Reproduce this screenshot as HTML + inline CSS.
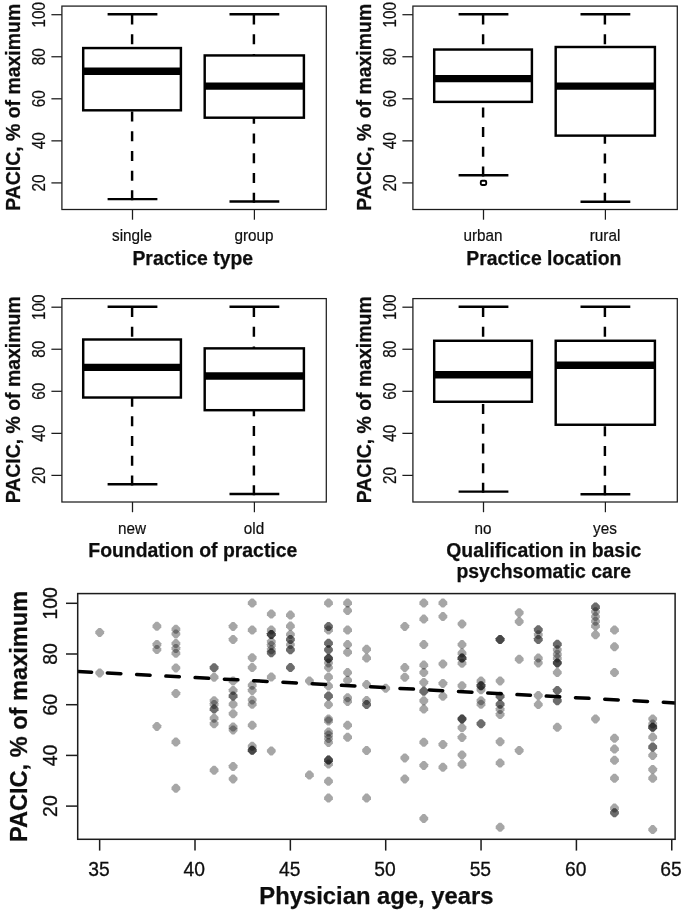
<!DOCTYPE html>
<html><head><meta charset="utf-8"><title>PACIC figure</title>
<style>
html,body{margin:0;padding:0;background:#fff;}
svg{display:block;font-family:'Liberation Sans', Arial, sans-serif;}
</style></head>
<body>
<svg width="685" height="913" viewBox="0 0 685 913">
<defs><clipPath id="sc"><rect x="77.7" y="593.6" width="597.4" height="245.7"/></clipPath><filter id="soft" x="0" y="0" width="100%" height="100%" filterUnits="userSpaceOnUse"><feGaussianBlur stdDeviation="0.45"/></filter></defs>
<rect width="685" height="913" fill="#fff"/>
<g filter="url(#soft)">
<g>
<line x1="132.10" y1="14.60" x2="132.10" y2="48.06" stroke="#000" stroke-width="2.45" stroke-dasharray="10 9.7"/>
<line x1="132.10" y1="200.34" x2="132.10" y2="110.30" stroke="#000" stroke-width="2.45" stroke-dasharray="10 9.7"/>
<line x1="107.60" y1="14.30" x2="157.40" y2="14.30" stroke="#000" stroke-width="2.45"/>
<line x1="107.60" y1="199.14" x2="157.40" y2="199.14" stroke="#000" stroke-width="2.45"/>
<rect x="83.20" y="48.06" width="97.70" height="62.24" fill="#fff" stroke="#000" stroke-width="2.45"/>
<line x1="83.20" y1="71.27" x2="180.90" y2="71.27" stroke="#000" stroke-width="7.3"/>
<line x1="253.90" y1="14.60" x2="253.90" y2="55.44" stroke="#000" stroke-width="2.45" stroke-dasharray="10 9.7"/>
<line x1="253.90" y1="202.66" x2="253.90" y2="117.69" stroke="#000" stroke-width="2.45" stroke-dasharray="10 9.7"/>
<line x1="229.50" y1="14.30" x2="279.30" y2="14.30" stroke="#000" stroke-width="2.45"/>
<line x1="229.50" y1="201.46" x2="279.30" y2="201.46" stroke="#000" stroke-width="2.45"/>
<rect x="204.70" y="55.44" width="99.20" height="62.25" fill="#fff" stroke="#000" stroke-width="2.45"/>
<line x1="204.70" y1="86.04" x2="303.90" y2="86.04" stroke="#000" stroke-width="7.3"/>
<rect x="61.90" y="6.10" width="264.40" height="203.40" fill="none" stroke="#1c1c1c" stroke-width="1.25"/>
<line x1="51.40" y1="182.90" x2="61.90" y2="182.90" stroke="#1c1c1c" stroke-width="1.25"/>
<text transform="translate(44.70,182.90) rotate(-90) scale(1.0,1.2)" text-anchor="middle" font-size="15.3" fill="#111" stroke="#111" stroke-width="0.2">20</text>
<line x1="51.40" y1="140.85" x2="61.90" y2="140.85" stroke="#1c1c1c" stroke-width="1.25"/>
<text transform="translate(44.70,140.85) rotate(-90) scale(1.0,1.2)" text-anchor="middle" font-size="15.3" fill="#111" stroke="#111" stroke-width="0.2">40</text>
<line x1="51.40" y1="98.80" x2="61.90" y2="98.80" stroke="#1c1c1c" stroke-width="1.25"/>
<text transform="translate(44.70,98.80) rotate(-90) scale(1.0,1.2)" text-anchor="middle" font-size="15.3" fill="#111" stroke="#111" stroke-width="0.2">60</text>
<line x1="51.40" y1="56.75" x2="61.90" y2="56.75" stroke="#1c1c1c" stroke-width="1.25"/>
<text transform="translate(44.70,56.75) rotate(-90) scale(1.0,1.2)" text-anchor="middle" font-size="15.3" fill="#111" stroke="#111" stroke-width="0.2">80</text>
<line x1="51.40" y1="14.70" x2="61.90" y2="14.70" stroke="#1c1c1c" stroke-width="1.25"/>
<text transform="translate(44.70,14.70) rotate(-90) scale(1.0,1.2)" text-anchor="middle" font-size="15.3" fill="#111" stroke="#111" stroke-width="0.2">100</text>
<text transform="translate(20.00,107.30) rotate(-90) scale(1.0,1.06)" text-anchor="middle" font-size="19.45" font-weight="bold" fill="#111" stroke="#111" stroke-width="0.25">PACIC, % of maximum</text>
<line x1="132.50" y1="209.50" x2="132.50" y2="219.70" stroke="#1c1c1c" stroke-width="1.25"/>
<text transform="translate(132.00,241.00) scale(1.0,1.08)" text-anchor="middle" font-size="15.3" fill="#111" stroke="#111" stroke-width="0.2">single</text>
<line x1="254.40" y1="209.50" x2="254.40" y2="219.70" stroke="#1c1c1c" stroke-width="1.25"/>
<text transform="translate(254.00,241.00) scale(1.0,1.08)" text-anchor="middle" font-size="15.3" fill="#111" stroke="#111" stroke-width="0.2">group</text>
<text transform="translate(192.80,264.60)" text-anchor="middle" font-size="19.4" font-weight="bold" fill="#111" stroke="#111" stroke-width="0.25">Practice type</text>
</g>
<g>
<line x1="483.10" y1="14.60" x2="483.10" y2="49.54" stroke="#000" stroke-width="2.45" stroke-dasharray="10 9.7"/>
<line x1="483.10" y1="176.49" x2="483.10" y2="101.86" stroke="#000" stroke-width="2.45" stroke-dasharray="10 9.7"/>
<line x1="458.60" y1="14.30" x2="508.40" y2="14.30" stroke="#000" stroke-width="2.45"/>
<line x1="458.60" y1="175.29" x2="508.40" y2="175.29" stroke="#000" stroke-width="2.45"/>
<rect x="434.20" y="49.54" width="97.70" height="52.33" fill="#fff" stroke="#000" stroke-width="2.45"/>
<line x1="434.20" y1="78.65" x2="531.90" y2="78.65" stroke="#000" stroke-width="7.3"/>
<line x1="604.90" y1="14.60" x2="604.90" y2="47.00" stroke="#000" stroke-width="2.45" stroke-dasharray="10 9.7"/>
<line x1="604.90" y1="202.87" x2="604.90" y2="135.62" stroke="#000" stroke-width="2.45" stroke-dasharray="10 9.7"/>
<line x1="580.50" y1="14.30" x2="630.30" y2="14.30" stroke="#000" stroke-width="2.45"/>
<line x1="580.50" y1="201.67" x2="630.30" y2="201.67" stroke="#000" stroke-width="2.45"/>
<rect x="555.70" y="47.00" width="99.20" height="88.62" fill="#fff" stroke="#000" stroke-width="2.45"/>
<line x1="555.70" y1="86.04" x2="654.90" y2="86.04" stroke="#000" stroke-width="7.3"/>
<rect x="480.80" y="180.70" width="5.4" height="4.3" rx="1.2" fill="none" stroke="#000" stroke-width="1.9"/>
<rect x="412.90" y="6.10" width="264.40" height="203.40" fill="none" stroke="#1c1c1c" stroke-width="1.25"/>
<line x1="402.40" y1="182.90" x2="412.90" y2="182.90" stroke="#1c1c1c" stroke-width="1.25"/>
<text transform="translate(395.70,182.90) rotate(-90) scale(1.0,1.2)" text-anchor="middle" font-size="15.3" fill="#111" stroke="#111" stroke-width="0.2">20</text>
<line x1="402.40" y1="140.85" x2="412.90" y2="140.85" stroke="#1c1c1c" stroke-width="1.25"/>
<text transform="translate(395.70,140.85) rotate(-90) scale(1.0,1.2)" text-anchor="middle" font-size="15.3" fill="#111" stroke="#111" stroke-width="0.2">40</text>
<line x1="402.40" y1="98.80" x2="412.90" y2="98.80" stroke="#1c1c1c" stroke-width="1.25"/>
<text transform="translate(395.70,98.80) rotate(-90) scale(1.0,1.2)" text-anchor="middle" font-size="15.3" fill="#111" stroke="#111" stroke-width="0.2">60</text>
<line x1="402.40" y1="56.75" x2="412.90" y2="56.75" stroke="#1c1c1c" stroke-width="1.25"/>
<text transform="translate(395.70,56.75) rotate(-90) scale(1.0,1.2)" text-anchor="middle" font-size="15.3" fill="#111" stroke="#111" stroke-width="0.2">80</text>
<line x1="402.40" y1="14.70" x2="412.90" y2="14.70" stroke="#1c1c1c" stroke-width="1.25"/>
<text transform="translate(395.70,14.70) rotate(-90) scale(1.0,1.2)" text-anchor="middle" font-size="15.3" fill="#111" stroke="#111" stroke-width="0.2">100</text>
<text transform="translate(371.00,107.30) rotate(-90) scale(1.0,1.06)" text-anchor="middle" font-size="19.45" font-weight="bold" fill="#111" stroke="#111" stroke-width="0.25">PACIC, % of maximum</text>
<line x1="483.50" y1="209.50" x2="483.50" y2="219.70" stroke="#1c1c1c" stroke-width="1.25"/>
<text transform="translate(483.00,241.00) scale(1.0,1.08)" text-anchor="middle" font-size="15.3" fill="#111" stroke="#111" stroke-width="0.2">urban</text>
<line x1="605.40" y1="209.50" x2="605.40" y2="219.70" stroke="#1c1c1c" stroke-width="1.25"/>
<text transform="translate(605.00,241.00) scale(1.0,1.08)" text-anchor="middle" font-size="15.3" fill="#111" stroke="#111" stroke-width="0.2">rural</text>
<text transform="translate(543.80,264.60)" text-anchor="middle" font-size="19.4" font-weight="bold" fill="#111" stroke="#111" stroke-width="0.25">Practice location</text>
</g>
<g>
<line x1="132.10" y1="307.10" x2="132.10" y2="339.50" stroke="#000" stroke-width="2.45" stroke-dasharray="10 9.7"/>
<line x1="132.10" y1="485.45" x2="132.10" y2="397.53" stroke="#000" stroke-width="2.45" stroke-dasharray="10 9.7"/>
<line x1="107.60" y1="306.80" x2="157.40" y2="306.80" stroke="#000" stroke-width="2.45"/>
<line x1="107.60" y1="484.25" x2="157.40" y2="484.25" stroke="#000" stroke-width="2.45"/>
<rect x="83.20" y="339.50" width="97.70" height="58.02" fill="#fff" stroke="#000" stroke-width="2.45"/>
<line x1="83.20" y1="367.36" x2="180.90" y2="367.36" stroke="#000" stroke-width="7.3"/>
<line x1="253.90" y1="307.10" x2="253.90" y2="348.37" stroke="#000" stroke-width="2.45" stroke-dasharray="10 9.7"/>
<line x1="253.90" y1="495.16" x2="253.90" y2="410.19" stroke="#000" stroke-width="2.45" stroke-dasharray="10 9.7"/>
<line x1="229.50" y1="306.80" x2="279.30" y2="306.80" stroke="#000" stroke-width="2.45"/>
<line x1="229.50" y1="493.96" x2="279.30" y2="493.96" stroke="#000" stroke-width="2.45"/>
<rect x="204.70" y="348.37" width="99.20" height="61.82" fill="#fff" stroke="#000" stroke-width="2.45"/>
<line x1="204.70" y1="376.01" x2="303.90" y2="376.01" stroke="#000" stroke-width="7.3"/>
<rect x="61.90" y="298.60" width="264.40" height="203.40" fill="none" stroke="#1c1c1c" stroke-width="1.25"/>
<line x1="51.40" y1="475.40" x2="61.90" y2="475.40" stroke="#1c1c1c" stroke-width="1.25"/>
<text transform="translate(44.70,475.40) rotate(-90) scale(1.0,1.2)" text-anchor="middle" font-size="15.3" fill="#111" stroke="#111" stroke-width="0.2">20</text>
<line x1="51.40" y1="433.35" x2="61.90" y2="433.35" stroke="#1c1c1c" stroke-width="1.25"/>
<text transform="translate(44.70,433.35) rotate(-90) scale(1.0,1.2)" text-anchor="middle" font-size="15.3" fill="#111" stroke="#111" stroke-width="0.2">40</text>
<line x1="51.40" y1="391.30" x2="61.90" y2="391.30" stroke="#1c1c1c" stroke-width="1.25"/>
<text transform="translate(44.70,391.30) rotate(-90) scale(1.0,1.2)" text-anchor="middle" font-size="15.3" fill="#111" stroke="#111" stroke-width="0.2">60</text>
<line x1="51.40" y1="349.25" x2="61.90" y2="349.25" stroke="#1c1c1c" stroke-width="1.25"/>
<text transform="translate(44.70,349.25) rotate(-90) scale(1.0,1.2)" text-anchor="middle" font-size="15.3" fill="#111" stroke="#111" stroke-width="0.2">80</text>
<line x1="51.40" y1="307.20" x2="61.90" y2="307.20" stroke="#1c1c1c" stroke-width="1.25"/>
<text transform="translate(44.70,307.20) rotate(-90) scale(1.0,1.2)" text-anchor="middle" font-size="15.3" fill="#111" stroke="#111" stroke-width="0.2">100</text>
<text transform="translate(20.00,399.80) rotate(-90) scale(1.0,1.06)" text-anchor="middle" font-size="19.45" font-weight="bold" fill="#111" stroke="#111" stroke-width="0.25">PACIC, % of maximum</text>
<line x1="132.50" y1="502.00" x2="132.50" y2="512.20" stroke="#1c1c1c" stroke-width="1.25"/>
<text transform="translate(132.00,533.50) scale(1.0,1.08)" text-anchor="middle" font-size="15.3" fill="#111" stroke="#111" stroke-width="0.2">new</text>
<line x1="254.40" y1="502.00" x2="254.40" y2="512.20" stroke="#1c1c1c" stroke-width="1.25"/>
<text transform="translate(254.00,533.50) scale(1.0,1.08)" text-anchor="middle" font-size="15.3" fill="#111" stroke="#111" stroke-width="0.2">old</text>
<text transform="translate(192.80,557.10)" text-anchor="middle" font-size="19.4" font-weight="bold" fill="#111" stroke="#111" stroke-width="0.25">Foundation of practice</text>
</g>
<g>
<line x1="483.10" y1="307.10" x2="483.10" y2="340.77" stroke="#000" stroke-width="2.45" stroke-dasharray="10 9.7"/>
<line x1="483.10" y1="492.84" x2="483.10" y2="401.75" stroke="#000" stroke-width="2.45" stroke-dasharray="10 9.7"/>
<line x1="458.60" y1="306.80" x2="508.40" y2="306.80" stroke="#000" stroke-width="2.45"/>
<line x1="458.60" y1="491.64" x2="508.40" y2="491.64" stroke="#000" stroke-width="2.45"/>
<rect x="434.20" y="340.77" width="97.70" height="60.98" fill="#fff" stroke="#000" stroke-width="2.45"/>
<line x1="434.20" y1="374.74" x2="531.90" y2="374.74" stroke="#000" stroke-width="7.3"/>
<line x1="604.90" y1="307.10" x2="604.90" y2="340.77" stroke="#000" stroke-width="2.45" stroke-dasharray="10 9.7"/>
<line x1="604.90" y1="495.37" x2="604.90" y2="424.75" stroke="#000" stroke-width="2.45" stroke-dasharray="10 9.7"/>
<line x1="580.50" y1="306.80" x2="630.30" y2="306.80" stroke="#000" stroke-width="2.45"/>
<line x1="580.50" y1="494.17" x2="630.30" y2="494.17" stroke="#000" stroke-width="2.45"/>
<rect x="555.70" y="340.77" width="99.20" height="83.98" fill="#fff" stroke="#000" stroke-width="2.45"/>
<line x1="555.70" y1="365.25" x2="654.90" y2="365.25" stroke="#000" stroke-width="7.3"/>
<rect x="412.90" y="298.60" width="264.40" height="203.40" fill="none" stroke="#1c1c1c" stroke-width="1.25"/>
<line x1="402.40" y1="475.40" x2="412.90" y2="475.40" stroke="#1c1c1c" stroke-width="1.25"/>
<text transform="translate(395.70,475.40) rotate(-90) scale(1.0,1.2)" text-anchor="middle" font-size="15.3" fill="#111" stroke="#111" stroke-width="0.2">20</text>
<line x1="402.40" y1="433.35" x2="412.90" y2="433.35" stroke="#1c1c1c" stroke-width="1.25"/>
<text transform="translate(395.70,433.35) rotate(-90) scale(1.0,1.2)" text-anchor="middle" font-size="15.3" fill="#111" stroke="#111" stroke-width="0.2">40</text>
<line x1="402.40" y1="391.30" x2="412.90" y2="391.30" stroke="#1c1c1c" stroke-width="1.25"/>
<text transform="translate(395.70,391.30) rotate(-90) scale(1.0,1.2)" text-anchor="middle" font-size="15.3" fill="#111" stroke="#111" stroke-width="0.2">60</text>
<line x1="402.40" y1="349.25" x2="412.90" y2="349.25" stroke="#1c1c1c" stroke-width="1.25"/>
<text transform="translate(395.70,349.25) rotate(-90) scale(1.0,1.2)" text-anchor="middle" font-size="15.3" fill="#111" stroke="#111" stroke-width="0.2">80</text>
<line x1="402.40" y1="307.20" x2="412.90" y2="307.20" stroke="#1c1c1c" stroke-width="1.25"/>
<text transform="translate(395.70,307.20) rotate(-90) scale(1.0,1.2)" text-anchor="middle" font-size="15.3" fill="#111" stroke="#111" stroke-width="0.2">100</text>
<text transform="translate(371.00,399.80) rotate(-90) scale(1.0,1.06)" text-anchor="middle" font-size="19.45" font-weight="bold" fill="#111" stroke="#111" stroke-width="0.25">PACIC, % of maximum</text>
<line x1="483.50" y1="502.00" x2="483.50" y2="512.20" stroke="#1c1c1c" stroke-width="1.25"/>
<text transform="translate(483.00,533.50) scale(1.0,1.08)" text-anchor="middle" font-size="15.3" fill="#111" stroke="#111" stroke-width="0.2">no</text>
<line x1="605.40" y1="502.00" x2="605.40" y2="512.20" stroke="#1c1c1c" stroke-width="1.25"/>
<text transform="translate(605.00,533.50) scale(1.0,1.08)" text-anchor="middle" font-size="15.3" fill="#111" stroke="#111" stroke-width="0.2">yes</text>
<text transform="translate(543.80,557.10)" text-anchor="middle" font-size="19.4" font-weight="bold" fill="#111" stroke="#111" stroke-width="0.25">Qualification in basic</text>
<text transform="translate(543.80,577.60)" text-anchor="middle" font-size="19.4" font-weight="bold" fill="#111" stroke="#111" stroke-width="0.25">psychsomatic care</text>
</g>
<g fill="#000" fill-opacity="0.35">
<path d="M98.5,627.9h2.4l3.2,3.3v2.4l-3.2,3.3h-2.4l-3.2,-3.3v-2.4z"/>
<path d="M98.5,668.4h2.4l3.2,3.3v2.4l-3.2,3.3h-2.4l-3.2,-3.3v-2.4z"/>
<path d="M155.7,621.8h2.4l3.2,3.3v2.4l-3.2,3.3h-2.4l-3.2,-3.3v-2.4z"/>
<path d="M155.7,640.0h2.4l3.2,3.3v2.4l-3.2,3.3h-2.4l-3.2,-3.3v-2.4z"/>
<path d="M155.7,645.1h2.4l3.2,3.3v2.4l-3.2,3.3h-2.4l-3.2,-3.3v-2.4z"/>
<path d="M155.7,721.9h2.4l3.2,3.3v2.4l-3.2,3.3h-2.4l-3.2,-3.3v-2.4z"/>
<path d="M174.7,624.7h2.4l3.2,3.3v2.4l-3.2,3.3h-2.4l-3.2,-3.3v-2.4z"/>
<path d="M174.7,629.4h2.4l3.2,3.3v2.4l-3.2,3.3h-2.4l-3.2,-3.3v-2.4z"/>
<path d="M174.7,639.1h2.4l3.2,3.3v2.4l-3.2,3.3h-2.4l-3.2,-3.3v-2.4z"/>
<path d="M174.7,643.9h2.4l3.2,3.3v2.4l-3.2,3.3h-2.4l-3.2,-3.3v-2.4z"/>
<path d="M174.7,648.8h2.4l3.2,3.3v2.4l-3.2,3.3h-2.4l-3.2,-3.3v-2.4z"/>
<path d="M174.7,663.4h2.4l3.2,3.3v2.4l-3.2,3.3h-2.4l-3.2,-3.3v-2.4z"/>
<path d="M174.7,688.9h2.4l3.2,3.3v2.4l-3.2,3.3h-2.4l-3.2,-3.3v-2.4z"/>
<path d="M174.7,737.5h2.4l3.2,3.3v2.4l-3.2,3.3h-2.4l-3.2,-3.3v-2.4z"/>
<path d="M174.7,783.8h2.4l3.2,3.3v2.4l-3.2,3.3h-2.4l-3.2,-3.3v-2.4z"/>
<path d="M212.9,663.3h2.4l3.2,3.3v2.4l-3.2,3.3h-2.4l-3.2,-3.3v-2.4z"/>
<path d="M212.9,663.3h2.4l3.2,3.3v2.4l-3.2,3.3h-2.4l-3.2,-3.3v-2.4z"/>
<path d="M212.9,672.8h2.4l3.2,3.3v2.4l-3.2,3.3h-2.4l-3.2,-3.3v-2.4z"/>
<path d="M212.9,696.2h2.4l3.2,3.3v2.4l-3.2,3.3h-2.4l-3.2,-3.3v-2.4z"/>
<path d="M212.9,700.0h2.4l3.2,3.3v2.4l-3.2,3.3h-2.4l-3.2,-3.3v-2.4z"/>
<path d="M212.9,704.6h2.4l3.2,3.3v2.4l-3.2,3.3h-2.4l-3.2,-3.3v-2.4z"/>
<path d="M212.9,704.6h2.4l3.2,3.3v2.4l-3.2,3.3h-2.4l-3.2,-3.3v-2.4z"/>
<path d="M212.9,713.7h2.4l3.2,3.3v2.4l-3.2,3.3h-2.4l-3.2,-3.3v-2.4z"/>
<path d="M212.9,719.2h2.4l3.2,3.3v2.4l-3.2,3.3h-2.4l-3.2,-3.3v-2.4z"/>
<path d="M212.9,765.8h2.4l3.2,3.3v2.4l-3.2,3.3h-2.4l-3.2,-3.3v-2.4z"/>
<path d="M231.9,621.9h2.4l3.2,3.3v2.4l-3.2,3.3h-2.4l-3.2,-3.3v-2.4z"/>
<path d="M231.9,635.0h2.4l3.2,3.3v2.4l-3.2,3.3h-2.4l-3.2,-3.3v-2.4z"/>
<path d="M231.9,676.5h2.4l3.2,3.3v2.4l-3.2,3.3h-2.4l-3.2,-3.3v-2.4z"/>
<path d="M231.9,685.9h2.4l3.2,3.3v2.4l-3.2,3.3h-2.4l-3.2,-3.3v-2.4z"/>
<path d="M231.9,691.5h2.4l3.2,3.3v2.4l-3.2,3.3h-2.4l-3.2,-3.3v-2.4z"/>
<path d="M231.9,691.5h2.4l3.2,3.3v2.4l-3.2,3.3h-2.4l-3.2,-3.3v-2.4z"/>
<path d="M231.9,699.8h2.4l3.2,3.3v2.4l-3.2,3.3h-2.4l-3.2,-3.3v-2.4z"/>
<path d="M231.9,709.3h2.4l3.2,3.3v2.4l-3.2,3.3h-2.4l-3.2,-3.3v-2.4z"/>
<path d="M231.9,722.5h2.4l3.2,3.3v2.4l-3.2,3.3h-2.4l-3.2,-3.3v-2.4z"/>
<path d="M231.9,725.4h2.4l3.2,3.3v2.4l-3.2,3.3h-2.4l-3.2,-3.3v-2.4z"/>
<path d="M231.9,762.0h2.4l3.2,3.3v2.4l-3.2,3.3h-2.4l-3.2,-3.3v-2.4z"/>
<path d="M231.9,774.4h2.4l3.2,3.3v2.4l-3.2,3.3h-2.4l-3.2,-3.3v-2.4z"/>
<path d="M251.0,598.5h2.4l3.2,3.3v2.4l-3.2,3.3h-2.4l-3.2,-3.3v-2.4z"/>
<path d="M251.0,625.5h2.4l3.2,3.3v2.4l-3.2,3.3h-2.4l-3.2,-3.3v-2.4z"/>
<path d="M251.0,653.3h2.4l3.2,3.3v2.4l-3.2,3.3h-2.4l-3.2,-3.3v-2.4z"/>
<path d="M251.0,663.1h2.4l3.2,3.3v2.4l-3.2,3.3h-2.4l-3.2,-3.3v-2.4z"/>
<path d="M251.0,680.8h2.4l3.2,3.3v2.4l-3.2,3.3h-2.4l-3.2,-3.3v-2.4z"/>
<path d="M251.0,685.9h2.4l3.2,3.3v2.4l-3.2,3.3h-2.4l-3.2,-3.3v-2.4z"/>
<path d="M251.0,695.4h2.4l3.2,3.3v2.4l-3.2,3.3h-2.4l-3.2,-3.3v-2.4z"/>
<path d="M251.0,699.8h2.4l3.2,3.3v2.4l-3.2,3.3h-2.4l-3.2,-3.3v-2.4z"/>
<path d="M251.0,720.7h2.4l3.2,3.3v2.4l-3.2,3.3h-2.4l-3.2,-3.3v-2.4z"/>
<path d="M251.0,741.7h2.4l3.2,3.3v2.4l-3.2,3.3h-2.4l-3.2,-3.3v-2.4z"/>
<path d="M251.0,745.8h2.4l3.2,3.3v2.4l-3.2,3.3h-2.4l-3.2,-3.3v-2.4z"/>
<path d="M251.0,745.8h2.4l3.2,3.3v2.4l-3.2,3.3h-2.4l-3.2,-3.3v-2.4z"/>
<path d="M251.0,745.8h2.4l3.2,3.3v2.4l-3.2,3.3h-2.4l-3.2,-3.3v-2.4z"/>
<path d="M270.1,609.5h2.4l3.2,3.3v2.4l-3.2,3.3h-2.4l-3.2,-3.3v-2.4z"/>
<path d="M270.1,625.5h2.4l3.2,3.3v2.4l-3.2,3.3h-2.4l-3.2,-3.3v-2.4z"/>
<path d="M270.1,629.9h2.4l3.2,3.3v2.4l-3.2,3.3h-2.4l-3.2,-3.3v-2.4z"/>
<path d="M270.1,629.9h2.4l3.2,3.3v2.4l-3.2,3.3h-2.4l-3.2,-3.3v-2.4z"/>
<path d="M270.1,629.9h2.4l3.2,3.3v2.4l-3.2,3.3h-2.4l-3.2,-3.3v-2.4z"/>
<path d="M270.1,637.2h2.4l3.2,3.3v2.4l-3.2,3.3h-2.4l-3.2,-3.3v-2.4z"/>
<path d="M270.1,640.9h2.4l3.2,3.3v2.4l-3.2,3.3h-2.4l-3.2,-3.3v-2.4z"/>
<path d="M270.1,645.2h2.4l3.2,3.3v2.4l-3.2,3.3h-2.4l-3.2,-3.3v-2.4z"/>
<path d="M270.1,648.2h2.4l3.2,3.3v2.4l-3.2,3.3h-2.4l-3.2,-3.3v-2.4z"/>
<path d="M270.1,648.2h2.4l3.2,3.3v2.4l-3.2,3.3h-2.4l-3.2,-3.3v-2.4z"/>
<path d="M270.1,672.5h2.4l3.2,3.3v2.4l-3.2,3.3h-2.4l-3.2,-3.3v-2.4z"/>
<path d="M270.1,746.4h2.4l3.2,3.3v2.4l-3.2,3.3h-2.4l-3.2,-3.3v-2.4z"/>
<path d="M289.2,610.6h2.4l3.2,3.3v2.4l-3.2,3.3h-2.4l-3.2,-3.3v-2.4z"/>
<path d="M289.2,621.6h2.4l3.2,3.3v2.4l-3.2,3.3h-2.4l-3.2,-3.3v-2.4z"/>
<path d="M289.2,629.9h2.4l3.2,3.3v2.4l-3.2,3.3h-2.4l-3.2,-3.3v-2.4z"/>
<path d="M289.2,635.0h2.4l3.2,3.3v2.4l-3.2,3.3h-2.4l-3.2,-3.3v-2.4z"/>
<path d="M289.2,635.0h2.4l3.2,3.3v2.4l-3.2,3.3h-2.4l-3.2,-3.3v-2.4z"/>
<path d="M289.2,640.1h2.4l3.2,3.3v2.4l-3.2,3.3h-2.4l-3.2,-3.3v-2.4z"/>
<path d="M289.2,645.2h2.4l3.2,3.3v2.4l-3.2,3.3h-2.4l-3.2,-3.3v-2.4z"/>
<path d="M289.2,645.2h2.4l3.2,3.3v2.4l-3.2,3.3h-2.4l-3.2,-3.3v-2.4z"/>
<path d="M289.2,663.1h2.4l3.2,3.3v2.4l-3.2,3.3h-2.4l-3.2,-3.3v-2.4z"/>
<path d="M289.2,663.1h2.4l3.2,3.3v2.4l-3.2,3.3h-2.4l-3.2,-3.3v-2.4z"/>
<path d="M308.2,676.4h2.4l3.2,3.3v2.4l-3.2,3.3h-2.4l-3.2,-3.3v-2.4z"/>
<path d="M308.2,770.5h2.4l3.2,3.3v2.4l-3.2,3.3h-2.4l-3.2,-3.3v-2.4z"/>
<path d="M327.3,598.5h2.4l3.2,3.3v2.4l-3.2,3.3h-2.4l-3.2,-3.3v-2.4z"/>
<path d="M327.3,621.9h2.4l3.2,3.3v2.4l-3.2,3.3h-2.4l-3.2,-3.3v-2.4z"/>
<path d="M327.3,621.9h2.4l3.2,3.3v2.4l-3.2,3.3h-2.4l-3.2,-3.3v-2.4z"/>
<path d="M327.3,625.5h2.4l3.2,3.3v2.4l-3.2,3.3h-2.4l-3.2,-3.3v-2.4z"/>
<path d="M327.3,638.7h2.4l3.2,3.3v2.4l-3.2,3.3h-2.4l-3.2,-3.3v-2.4z"/>
<path d="M327.3,638.7h2.4l3.2,3.3v2.4l-3.2,3.3h-2.4l-3.2,-3.3v-2.4z"/>
<path d="M327.3,645.2h2.4l3.2,3.3v2.4l-3.2,3.3h-2.4l-3.2,-3.3v-2.4z"/>
<path d="M327.3,645.2h2.4l3.2,3.3v2.4l-3.2,3.3h-2.4l-3.2,-3.3v-2.4z"/>
<path d="M327.3,654.0h2.4l3.2,3.3v2.4l-3.2,3.3h-2.4l-3.2,-3.3v-2.4z"/>
<path d="M327.3,654.0h2.4l3.2,3.3v2.4l-3.2,3.3h-2.4l-3.2,-3.3v-2.4z"/>
<path d="M327.3,654.0h2.4l3.2,3.3v2.4l-3.2,3.3h-2.4l-3.2,-3.3v-2.4z"/>
<path d="M327.3,658.4h2.4l3.2,3.3v2.4l-3.2,3.3h-2.4l-3.2,-3.3v-2.4z"/>
<path d="M327.3,663.1h2.4l3.2,3.3v2.4l-3.2,3.3h-2.4l-3.2,-3.3v-2.4z"/>
<path d="M327.3,672.5h2.4l3.2,3.3v2.4l-3.2,3.3h-2.4l-3.2,-3.3v-2.4z"/>
<path d="M327.3,681.5h2.4l3.2,3.3v2.4l-3.2,3.3h-2.4l-3.2,-3.3v-2.4z"/>
<path d="M327.3,691.5h2.4l3.2,3.3v2.4l-3.2,3.3h-2.4l-3.2,-3.3v-2.4z"/>
<path d="M327.3,691.5h2.4l3.2,3.3v2.4l-3.2,3.3h-2.4l-3.2,-3.3v-2.4z"/>
<path d="M327.3,700.1h2.4l3.2,3.3v2.4l-3.2,3.3h-2.4l-3.2,-3.3v-2.4z"/>
<path d="M327.3,714.4h2.4l3.2,3.3v2.4l-3.2,3.3h-2.4l-3.2,-3.3v-2.4z"/>
<path d="M327.3,716.5h2.4l3.2,3.3v2.4l-3.2,3.3h-2.4l-3.2,-3.3v-2.4z"/>
<path d="M327.3,727.5h2.4l3.2,3.3v2.4l-3.2,3.3h-2.4l-3.2,-3.3v-2.4z"/>
<path d="M327.3,730.5h2.4l3.2,3.3v2.4l-3.2,3.3h-2.4l-3.2,-3.3v-2.4z"/>
<path d="M327.3,734.1h2.4l3.2,3.3v2.4l-3.2,3.3h-2.4l-3.2,-3.3v-2.4z"/>
<path d="M327.3,737.9h2.4l3.2,3.3v2.4l-3.2,3.3h-2.4l-3.2,-3.3v-2.4z"/>
<path d="M327.3,755.6h2.4l3.2,3.3v2.4l-3.2,3.3h-2.4l-3.2,-3.3v-2.4z"/>
<path d="M327.3,755.6h2.4l3.2,3.3v2.4l-3.2,3.3h-2.4l-3.2,-3.3v-2.4z"/>
<path d="M327.3,755.6h2.4l3.2,3.3v2.4l-3.2,3.3h-2.4l-3.2,-3.3v-2.4z"/>
<path d="M327.3,759.6h2.4l3.2,3.3v2.4l-3.2,3.3h-2.4l-3.2,-3.3v-2.4z"/>
<path d="M327.3,776.7h2.4l3.2,3.3v2.4l-3.2,3.3h-2.4l-3.2,-3.3v-2.4z"/>
<path d="M327.3,793.6h2.4l3.2,3.3v2.4l-3.2,3.3h-2.4l-3.2,-3.3v-2.4z"/>
<path d="M346.4,598.5h2.4l3.2,3.3v2.4l-3.2,3.3h-2.4l-3.2,-3.3v-2.4z"/>
<path d="M346.4,606.1h2.4l3.2,3.3v2.4l-3.2,3.3h-2.4l-3.2,-3.3v-2.4z"/>
<path d="M346.4,625.5h2.4l3.2,3.3v2.4l-3.2,3.3h-2.4l-3.2,-3.3v-2.4z"/>
<path d="M346.4,640.1h2.4l3.2,3.3v2.4l-3.2,3.3h-2.4l-3.2,-3.3v-2.4z"/>
<path d="M346.4,647.7h2.4l3.2,3.3v2.4l-3.2,3.3h-2.4l-3.2,-3.3v-2.4z"/>
<path d="M346.4,668.1h2.4l3.2,3.3v2.4l-3.2,3.3h-2.4l-3.2,-3.3v-2.4z"/>
<path d="M346.4,675.7h2.4l3.2,3.3v2.4l-3.2,3.3h-2.4l-3.2,-3.3v-2.4z"/>
<path d="M346.4,693.2h2.4l3.2,3.3v2.4l-3.2,3.3h-2.4l-3.2,-3.3v-2.4z"/>
<path d="M346.4,696.9h2.4l3.2,3.3v2.4l-3.2,3.3h-2.4l-3.2,-3.3v-2.4z"/>
<path d="M346.4,720.7h2.4l3.2,3.3v2.4l-3.2,3.3h-2.4l-3.2,-3.3v-2.4z"/>
<path d="M346.4,732.7h2.4l3.2,3.3v2.4l-3.2,3.3h-2.4l-3.2,-3.3v-2.4z"/>
<path d="M365.4,644.8h2.4l3.2,3.3v2.4l-3.2,3.3h-2.4l-3.2,-3.3v-2.4z"/>
<path d="M365.4,653.6h2.4l3.2,3.3v2.4l-3.2,3.3h-2.4l-3.2,-3.3v-2.4z"/>
<path d="M365.4,680.1h2.4l3.2,3.3v2.4l-3.2,3.3h-2.4l-3.2,-3.3v-2.4z"/>
<path d="M365.4,696.0h2.4l3.2,3.3v2.4l-3.2,3.3h-2.4l-3.2,-3.3v-2.4z"/>
<path d="M365.4,700.0h2.4l3.2,3.3v2.4l-3.2,3.3h-2.4l-3.2,-3.3v-2.4z"/>
<path d="M365.4,700.0h2.4l3.2,3.3v2.4l-3.2,3.3h-2.4l-3.2,-3.3v-2.4z"/>
<path d="M365.4,746.0h2.4l3.2,3.3v2.4l-3.2,3.3h-2.4l-3.2,-3.3v-2.4z"/>
<path d="M365.4,793.6h2.4l3.2,3.3v2.4l-3.2,3.3h-2.4l-3.2,-3.3v-2.4z"/>
<path d="M384.5,683.7h2.4l3.2,3.3v2.4l-3.2,3.3h-2.4l-3.2,-3.3v-2.4z"/>
<path d="M403.6,621.9h2.4l3.2,3.3v2.4l-3.2,3.3h-2.4l-3.2,-3.3v-2.4z"/>
<path d="M403.6,663.1h2.4l3.2,3.3v2.4l-3.2,3.3h-2.4l-3.2,-3.3v-2.4z"/>
<path d="M403.6,672.8h2.4l3.2,3.3v2.4l-3.2,3.3h-2.4l-3.2,-3.3v-2.4z"/>
<path d="M403.6,753.4h2.4l3.2,3.3v2.4l-3.2,3.3h-2.4l-3.2,-3.3v-2.4z"/>
<path d="M403.6,774.4h2.4l3.2,3.3v2.4l-3.2,3.3h-2.4l-3.2,-3.3v-2.4z"/>
<path d="M422.6,598.5h2.4l3.2,3.3v2.4l-3.2,3.3h-2.4l-3.2,-3.3v-2.4z"/>
<path d="M422.6,614.6h2.4l3.2,3.3v2.4l-3.2,3.3h-2.4l-3.2,-3.3v-2.4z"/>
<path d="M422.6,640.1h2.4l3.2,3.3v2.4l-3.2,3.3h-2.4l-3.2,-3.3v-2.4z"/>
<path d="M422.6,660.6h2.4l3.2,3.3v2.4l-3.2,3.3h-2.4l-3.2,-3.3v-2.4z"/>
<path d="M422.6,668.1h2.4l3.2,3.3v2.4l-3.2,3.3h-2.4l-3.2,-3.3v-2.4z"/>
<path d="M422.6,677.9h2.4l3.2,3.3v2.4l-3.2,3.3h-2.4l-3.2,-3.3v-2.4z"/>
<path d="M422.6,686.7h2.4l3.2,3.3v2.4l-3.2,3.3h-2.4l-3.2,-3.3v-2.4z"/>
<path d="M422.6,686.7h2.4l3.2,3.3v2.4l-3.2,3.3h-2.4l-3.2,-3.3v-2.4z"/>
<path d="M422.6,696.2h2.4l3.2,3.3v2.4l-3.2,3.3h-2.4l-3.2,-3.3v-2.4z"/>
<path d="M422.6,704.6h2.4l3.2,3.3v2.4l-3.2,3.3h-2.4l-3.2,-3.3v-2.4z"/>
<path d="M422.6,737.8h2.4l3.2,3.3v2.4l-3.2,3.3h-2.4l-3.2,-3.3v-2.4z"/>
<path d="M422.6,760.9h2.4l3.2,3.3v2.4l-3.2,3.3h-2.4l-3.2,-3.3v-2.4z"/>
<path d="M422.6,814.1h2.4l3.2,3.3v2.4l-3.2,3.3h-2.4l-3.2,-3.3v-2.4z"/>
<path d="M441.7,598.5h2.4l3.2,3.3v2.4l-3.2,3.3h-2.4l-3.2,-3.3v-2.4z"/>
<path d="M441.7,612.1h2.4l3.2,3.3v2.4l-3.2,3.3h-2.4l-3.2,-3.3v-2.4z"/>
<path d="M441.7,659.4h2.4l3.2,3.3v2.4l-3.2,3.3h-2.4l-3.2,-3.3v-2.4z"/>
<path d="M441.7,678.9h2.4l3.2,3.3v2.4l-3.2,3.3h-2.4l-3.2,-3.3v-2.4z"/>
<path d="M441.7,691.8h2.4l3.2,3.3v2.4l-3.2,3.3h-2.4l-3.2,-3.3v-2.4z"/>
<path d="M441.7,740.0h2.4l3.2,3.3v2.4l-3.2,3.3h-2.4l-3.2,-3.3v-2.4z"/>
<path d="M441.7,762.7h2.4l3.2,3.3v2.4l-3.2,3.3h-2.4l-3.2,-3.3v-2.4z"/>
<path d="M460.8,619.4h2.4l3.2,3.3v2.4l-3.2,3.3h-2.4l-3.2,-3.3v-2.4z"/>
<path d="M460.8,640.1h2.4l3.2,3.3v2.4l-3.2,3.3h-2.4l-3.2,-3.3v-2.4z"/>
<path d="M460.8,648.6h2.4l3.2,3.3v2.4l-3.2,3.3h-2.4l-3.2,-3.3v-2.4z"/>
<path d="M460.8,653.6h2.4l3.2,3.3v2.4l-3.2,3.3h-2.4l-3.2,-3.3v-2.4z"/>
<path d="M460.8,653.6h2.4l3.2,3.3v2.4l-3.2,3.3h-2.4l-3.2,-3.3v-2.4z"/>
<path d="M460.8,653.6h2.4l3.2,3.3v2.4l-3.2,3.3h-2.4l-3.2,-3.3v-2.4z"/>
<path d="M460.8,658.8h2.4l3.2,3.3v2.4l-3.2,3.3h-2.4l-3.2,-3.3v-2.4z"/>
<path d="M460.8,681.3h2.4l3.2,3.3v2.4l-3.2,3.3h-2.4l-3.2,-3.3v-2.4z"/>
<path d="M460.8,714.4h2.4l3.2,3.3v2.4l-3.2,3.3h-2.4l-3.2,-3.3v-2.4z"/>
<path d="M460.8,714.4h2.4l3.2,3.3v2.4l-3.2,3.3h-2.4l-3.2,-3.3v-2.4z"/>
<path d="M460.8,714.4h2.4l3.2,3.3v2.4l-3.2,3.3h-2.4l-3.2,-3.3v-2.4z"/>
<path d="M460.8,723.2h2.4l3.2,3.3v2.4l-3.2,3.3h-2.4l-3.2,-3.3v-2.4z"/>
<path d="M460.8,732.9h2.4l3.2,3.3v2.4l-3.2,3.3h-2.4l-3.2,-3.3v-2.4z"/>
<path d="M460.8,750.4h2.4l3.2,3.3v2.4l-3.2,3.3h-2.4l-3.2,-3.3v-2.4z"/>
<path d="M460.8,759.7h2.4l3.2,3.3v2.4l-3.2,3.3h-2.4l-3.2,-3.3v-2.4z"/>
<path d="M479.8,676.5h2.4l3.2,3.3v2.4l-3.2,3.3h-2.4l-3.2,-3.3v-2.4z"/>
<path d="M479.8,681.3h2.4l3.2,3.3v2.4l-3.2,3.3h-2.4l-3.2,-3.3v-2.4z"/>
<path d="M479.8,681.3h2.4l3.2,3.3v2.4l-3.2,3.3h-2.4l-3.2,-3.3v-2.4z"/>
<path d="M479.8,681.3h2.4l3.2,3.3v2.4l-3.2,3.3h-2.4l-3.2,-3.3v-2.4z"/>
<path d="M479.8,685.2h2.4l3.2,3.3v2.4l-3.2,3.3h-2.4l-3.2,-3.3v-2.4z"/>
<path d="M479.8,696.2h2.4l3.2,3.3v2.4l-3.2,3.3h-2.4l-3.2,-3.3v-2.4z"/>
<path d="M479.8,699.8h2.4l3.2,3.3v2.4l-3.2,3.3h-2.4l-3.2,-3.3v-2.4z"/>
<path d="M479.8,719.2h2.4l3.2,3.3v2.4l-3.2,3.3h-2.4l-3.2,-3.3v-2.4z"/>
<path d="M479.8,719.2h2.4l3.2,3.3v2.4l-3.2,3.3h-2.4l-3.2,-3.3v-2.4z"/>
<path d="M498.9,635.0h2.4l3.2,3.3v2.4l-3.2,3.3h-2.4l-3.2,-3.3v-2.4z"/>
<path d="M498.9,635.0h2.4l3.2,3.3v2.4l-3.2,3.3h-2.4l-3.2,-3.3v-2.4z"/>
<path d="M498.9,635.0h2.4l3.2,3.3v2.4l-3.2,3.3h-2.4l-3.2,-3.3v-2.4z"/>
<path d="M498.9,676.4h2.4l3.2,3.3v2.4l-3.2,3.3h-2.4l-3.2,-3.3v-2.4z"/>
<path d="M498.9,691.8h2.4l3.2,3.3v2.4l-3.2,3.3h-2.4l-3.2,-3.3v-2.4z"/>
<path d="M498.9,691.8h2.4l3.2,3.3v2.4l-3.2,3.3h-2.4l-3.2,-3.3v-2.4z"/>
<path d="M498.9,699.8h2.4l3.2,3.3v2.4l-3.2,3.3h-2.4l-3.2,-3.3v-2.4z"/>
<path d="M498.9,699.8h2.4l3.2,3.3v2.4l-3.2,3.3h-2.4l-3.2,-3.3v-2.4z"/>
<path d="M498.9,704.9h2.4l3.2,3.3v2.4l-3.2,3.3h-2.4l-3.2,-3.3v-2.4z"/>
<path d="M498.9,710.0h2.4l3.2,3.3v2.4l-3.2,3.3h-2.4l-3.2,-3.3v-2.4z"/>
<path d="M498.9,737.3h2.4l3.2,3.3v2.4l-3.2,3.3h-2.4l-3.2,-3.3v-2.4z"/>
<path d="M498.9,758.5h2.4l3.2,3.3v2.4l-3.2,3.3h-2.4l-3.2,-3.3v-2.4z"/>
<path d="M498.9,822.8h2.4l3.2,3.3v2.4l-3.2,3.3h-2.4l-3.2,-3.3v-2.4z"/>
<path d="M518.0,608.3h2.4l3.2,3.3v2.4l-3.2,3.3h-2.4l-3.2,-3.3v-2.4z"/>
<path d="M518.0,617.1h2.4l3.2,3.3v2.4l-3.2,3.3h-2.4l-3.2,-3.3v-2.4z"/>
<path d="M518.0,654.7h2.4l3.2,3.3v2.4l-3.2,3.3h-2.4l-3.2,-3.3v-2.4z"/>
<path d="M518.0,746.0h2.4l3.2,3.3v2.4l-3.2,3.3h-2.4l-3.2,-3.3v-2.4z"/>
<path d="M537.1,625.2h2.4l3.2,3.3v2.4l-3.2,3.3h-2.4l-3.2,-3.3v-2.4z"/>
<path d="M537.1,625.2h2.4l3.2,3.3v2.4l-3.2,3.3h-2.4l-3.2,-3.3v-2.4z"/>
<path d="M537.1,630.2h2.4l3.2,3.3v2.4l-3.2,3.3h-2.4l-3.2,-3.3v-2.4z"/>
<path d="M537.1,635.0h2.4l3.2,3.3v2.4l-3.2,3.3h-2.4l-3.2,-3.3v-2.4z"/>
<path d="M537.1,635.0h2.4l3.2,3.3v2.4l-3.2,3.3h-2.4l-3.2,-3.3v-2.4z"/>
<path d="M537.1,653.6h2.4l3.2,3.3v2.4l-3.2,3.3h-2.4l-3.2,-3.3v-2.4z"/>
<path d="M537.1,658.4h2.4l3.2,3.3v2.4l-3.2,3.3h-2.4l-3.2,-3.3v-2.4z"/>
<path d="M537.1,691.0h2.4l3.2,3.3v2.4l-3.2,3.3h-2.4l-3.2,-3.3v-2.4z"/>
<path d="M537.1,700.1h2.4l3.2,3.3v2.4l-3.2,3.3h-2.4l-3.2,-3.3v-2.4z"/>
<path d="M556.1,639.8h2.4l3.2,3.3v2.4l-3.2,3.3h-2.4l-3.2,-3.3v-2.4z"/>
<path d="M556.1,639.8h2.4l3.2,3.3v2.4l-3.2,3.3h-2.4l-3.2,-3.3v-2.4z"/>
<path d="M556.1,645.2h2.4l3.2,3.3v2.4l-3.2,3.3h-2.4l-3.2,-3.3v-2.4z"/>
<path d="M556.1,649.6h2.4l3.2,3.3v2.4l-3.2,3.3h-2.4l-3.2,-3.3v-2.4z"/>
<path d="M556.1,653.6h2.4l3.2,3.3v2.4l-3.2,3.3h-2.4l-3.2,-3.3v-2.4z"/>
<path d="M556.1,658.4h2.4l3.2,3.3v2.4l-3.2,3.3h-2.4l-3.2,-3.3v-2.4z"/>
<path d="M556.1,658.4h2.4l3.2,3.3v2.4l-3.2,3.3h-2.4l-3.2,-3.3v-2.4z"/>
<path d="M556.1,658.4h2.4l3.2,3.3v2.4l-3.2,3.3h-2.4l-3.2,-3.3v-2.4z"/>
<path d="M556.1,668.1h2.4l3.2,3.3v2.4l-3.2,3.3h-2.4l-3.2,-3.3v-2.4z"/>
<path d="M556.1,685.9h2.4l3.2,3.3v2.4l-3.2,3.3h-2.4l-3.2,-3.3v-2.4z"/>
<path d="M556.1,685.9h2.4l3.2,3.3v2.4l-3.2,3.3h-2.4l-3.2,-3.3v-2.4z"/>
<path d="M556.1,696.2h2.4l3.2,3.3v2.4l-3.2,3.3h-2.4l-3.2,-3.3v-2.4z"/>
<path d="M556.1,696.2h2.4l3.2,3.3v2.4l-3.2,3.3h-2.4l-3.2,-3.3v-2.4z"/>
<path d="M556.1,722.7h2.4l3.2,3.3v2.4l-3.2,3.3h-2.4l-3.2,-3.3v-2.4z"/>
<path d="M594.3,602.5h2.4l3.2,3.3v2.4l-3.2,3.3h-2.4l-3.2,-3.3v-2.4z"/>
<path d="M594.3,602.5h2.4l3.2,3.3v2.4l-3.2,3.3h-2.4l-3.2,-3.3v-2.4z"/>
<path d="M594.3,607.3h2.4l3.2,3.3v2.4l-3.2,3.3h-2.4l-3.2,-3.3v-2.4z"/>
<path d="M594.3,612.1h2.4l3.2,3.3v2.4l-3.2,3.3h-2.4l-3.2,-3.3v-2.4z"/>
<path d="M594.3,616.8h2.4l3.2,3.3v2.4l-3.2,3.3h-2.4l-3.2,-3.3v-2.4z"/>
<path d="M594.3,621.6h2.4l3.2,3.3v2.4l-3.2,3.3h-2.4l-3.2,-3.3v-2.4z"/>
<path d="M594.3,630.2h2.4l3.2,3.3v2.4l-3.2,3.3h-2.4l-3.2,-3.3v-2.4z"/>
<path d="M594.3,714.4h2.4l3.2,3.3v2.4l-3.2,3.3h-2.4l-3.2,-3.3v-2.4z"/>
<path d="M613.3,625.5h2.4l3.2,3.3v2.4l-3.2,3.3h-2.4l-3.2,-3.3v-2.4z"/>
<path d="M613.3,642.3h2.4l3.2,3.3v2.4l-3.2,3.3h-2.4l-3.2,-3.3v-2.4z"/>
<path d="M613.3,668.0h2.4l3.2,3.3v2.4l-3.2,3.3h-2.4l-3.2,-3.3v-2.4z"/>
<path d="M613.3,733.8h2.4l3.2,3.3v2.4l-3.2,3.3h-2.4l-3.2,-3.3v-2.4z"/>
<path d="M613.3,744.6h2.4l3.2,3.3v2.4l-3.2,3.3h-2.4l-3.2,-3.3v-2.4z"/>
<path d="M613.3,755.7h2.4l3.2,3.3v2.4l-3.2,3.3h-2.4l-3.2,-3.3v-2.4z"/>
<path d="M613.3,773.7h2.4l3.2,3.3v2.4l-3.2,3.3h-2.4l-3.2,-3.3v-2.4z"/>
<path d="M613.3,803.6h2.4l3.2,3.3v2.4l-3.2,3.3h-2.4l-3.2,-3.3v-2.4z"/>
<path d="M613.3,808.3h2.4l3.2,3.3v2.4l-3.2,3.3h-2.4l-3.2,-3.3v-2.4z"/>
<path d="M613.3,808.3h2.4l3.2,3.3v2.4l-3.2,3.3h-2.4l-3.2,-3.3v-2.4z"/>
<path d="M651.5,714.4h2.4l3.2,3.3v2.4l-3.2,3.3h-2.4l-3.2,-3.3v-2.4z"/>
<path d="M651.5,719.5h2.4l3.2,3.3v2.4l-3.2,3.3h-2.4l-3.2,-3.3v-2.4z"/>
<path d="M651.5,722.7h2.4l3.2,3.3v2.4l-3.2,3.3h-2.4l-3.2,-3.3v-2.4z"/>
<path d="M651.5,722.7h2.4l3.2,3.3v2.4l-3.2,3.3h-2.4l-3.2,-3.3v-2.4z"/>
<path d="M651.5,722.7h2.4l3.2,3.3v2.4l-3.2,3.3h-2.4l-3.2,-3.3v-2.4z"/>
<path d="M651.5,732.6h2.4l3.2,3.3v2.4l-3.2,3.3h-2.4l-3.2,-3.3v-2.4z"/>
<path d="M651.5,742.5h2.4l3.2,3.3v2.4l-3.2,3.3h-2.4l-3.2,-3.3v-2.4z"/>
<path d="M651.5,742.5h2.4l3.2,3.3v2.4l-3.2,3.3h-2.4l-3.2,-3.3v-2.4z"/>
<path d="M651.5,750.9h2.4l3.2,3.3v2.4l-3.2,3.3h-2.4l-3.2,-3.3v-2.4z"/>
<path d="M651.5,765.0h2.4l3.2,3.3v2.4l-3.2,3.3h-2.4l-3.2,-3.3v-2.4z"/>
<path d="M651.5,773.7h2.4l3.2,3.3v2.4l-3.2,3.3h-2.4l-3.2,-3.3v-2.4z"/>
<path d="M651.5,825.1h2.4l3.2,3.3v2.4l-3.2,3.3h-2.4l-3.2,-3.3v-2.4z"/>
</g>
<line x1="77.7" y1="671.4" x2="675.1" y2="702.9" stroke="#000" stroke-width="3.5" stroke-dasharray="13.5 15.8" stroke-dashoffset="-0.4" stroke-linecap="round" clip-path="url(#sc)"/>
<rect x="77.7" y="593.6" width="597.40" height="245.70" fill="none" stroke="#1c1c1c" stroke-width="1.5"/>
<line x1="66.00" y1="806.10" x2="77.7" y2="806.10" stroke="#1c1c1c" stroke-width="1.5"/>
<text transform="translate(56.60,806.10) rotate(-90) scale(1.0,1.08)" text-anchor="middle" font-size="19.4" fill="#111" stroke="#111" stroke-width="0.3">20</text>
<line x1="66.00" y1="755.40" x2="77.7" y2="755.40" stroke="#1c1c1c" stroke-width="1.5"/>
<text transform="translate(56.60,755.40) rotate(-90) scale(1.0,1.08)" text-anchor="middle" font-size="19.4" fill="#111" stroke="#111" stroke-width="0.3">40</text>
<line x1="66.00" y1="704.70" x2="77.7" y2="704.70" stroke="#1c1c1c" stroke-width="1.5"/>
<text transform="translate(56.60,704.70) rotate(-90) scale(1.0,1.08)" text-anchor="middle" font-size="19.4" fill="#111" stroke="#111" stroke-width="0.3">60</text>
<line x1="66.00" y1="654.00" x2="77.7" y2="654.00" stroke="#1c1c1c" stroke-width="1.5"/>
<text transform="translate(56.60,654.00) rotate(-90) scale(1.0,1.08)" text-anchor="middle" font-size="19.4" fill="#111" stroke="#111" stroke-width="0.3">80</text>
<line x1="66.00" y1="603.30" x2="77.7" y2="603.30" stroke="#1c1c1c" stroke-width="1.5"/>
<text transform="translate(56.60,603.30) rotate(-90) scale(1.0,1.08)" text-anchor="middle" font-size="19.4" fill="#111" stroke="#111" stroke-width="0.3">100</text>
<line x1="99.65" y1="839.3" x2="99.65" y2="850.60" stroke="#1c1c1c" stroke-width="1.5"/>
<text transform="translate(98.95,875.60)" text-anchor="middle" font-size="19.3" fill="#111" stroke="#111" stroke-width="0.3">35</text>
<line x1="195.00" y1="839.3" x2="195.00" y2="850.60" stroke="#1c1c1c" stroke-width="1.5"/>
<text transform="translate(194.30,875.60)" text-anchor="middle" font-size="19.3" fill="#111" stroke="#111" stroke-width="0.3">40</text>
<line x1="290.35" y1="839.3" x2="290.35" y2="850.60" stroke="#1c1c1c" stroke-width="1.5"/>
<text transform="translate(289.65,875.60)" text-anchor="middle" font-size="19.3" fill="#111" stroke="#111" stroke-width="0.3">45</text>
<line x1="385.70" y1="839.3" x2="385.70" y2="850.60" stroke="#1c1c1c" stroke-width="1.5"/>
<text transform="translate(385.00,875.60)" text-anchor="middle" font-size="19.3" fill="#111" stroke="#111" stroke-width="0.3">50</text>
<line x1="481.05" y1="839.3" x2="481.05" y2="850.60" stroke="#1c1c1c" stroke-width="1.5"/>
<text transform="translate(480.35,875.60)" text-anchor="middle" font-size="19.3" fill="#111" stroke="#111" stroke-width="0.3">55</text>
<line x1="576.40" y1="839.3" x2="576.40" y2="850.60" stroke="#1c1c1c" stroke-width="1.5"/>
<text transform="translate(575.70,875.60)" text-anchor="middle" font-size="19.3" fill="#111" stroke="#111" stroke-width="0.3">60</text>
<line x1="671.75" y1="839.3" x2="671.75" y2="850.60" stroke="#1c1c1c" stroke-width="1.5"/>
<text transform="translate(671.05,875.60)" text-anchor="middle" font-size="19.3" fill="#111" stroke="#111" stroke-width="0.3">65</text>
<text transform="translate(27.00,716.45) rotate(-90)" text-anchor="middle" font-size="23.6" font-weight="bold" fill="#111" stroke="#111" stroke-width="0.25">PACIC, % of maximum</text>
<text transform="translate(376.40,904.00)" text-anchor="middle" font-size="23.8" font-weight="bold" fill="#111" stroke="#111" stroke-width="0.25">Physician age, years</text>
</g>
</svg>
</body></html>
